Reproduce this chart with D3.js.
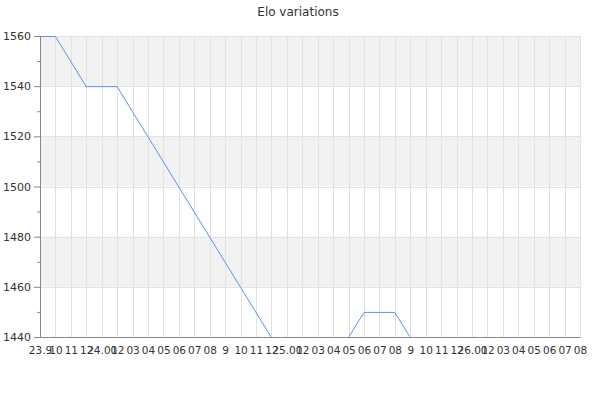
<!DOCTYPE html>
<html>
<head>
<meta charset="utf-8">
<script src="https://cdn.jsdelivr.net/npm/d3@7"></script>
<style>
  body { margin: 0; background: #fff; }
  svg { font-family: "DejaVu Sans", sans-serif; }
</style>
</head>
<body>
<svg id="chart"></svg>
<script>
// tick labels along the bottom, one per point (they overlap in the original too)
const timeLabels = [
  "23.9", "10", "11", "12",
  "24.00", "12", "03", "04", "05", "06", "07", "08", "9", "10", "11", "12",
  "25.00", "12", "03", "04", "05", "06", "07", "08", "9", "10", "11", "12",
  "26.00", "12", "03", "04", "05", "06", "07", "08",
];
const eloValues = [
  1560, 1560, 1550, 1540, 1540, 1540, 1530, 1520, 1510, 1500, 1490, 1480,
  1470, 1460, 1450, 1440, 1440, 1440, 1440, 1440, 1440, 1450, 1450, 1450,
  1440, 1440, 1440, 1440, 1440, 1440, 1440, 1440, 1440, 1440, 1440, 1440,
];
const yTicks = [1440, 1460, 1480, 1500, 1520, 1540, 1560];
const yMinorTicks = [1450, 1470, 1490, 1510, 1530, 1550];

const margin = { left: 40, right: 20, top: 36, bottom: 63 };
const width = 600 - margin.left - margin.right;
const height = 400 - margin.top - margin.bottom;

const svg = d3.select("#chart").attr("width", 600).attr("height", 400);

svg.append("text")
  .attr("x", 298)
  .attr("y", 16)
  .attr("text-anchor", "middle")
  .attr("font-size", 12)
  .attr("fill", "#333")
  .text("Elo variations");

const g = svg.append("g").attr("transform", `translate(${margin.left},${margin.top})`);

// the line is hidden under the bottom axis where it sits on 1440
g.append("clipPath")
  .attr("id", "plotClip")
  .append("rect")
  .attr("x", -2)
  .attr("y", -2)
  .attr("width", width + 4)
  .attr("height", height + 1.5);

const x = d3.scalePoint().domain(d3.range(eloValues.length)).range([0, width]);
const y = d3.scaleLinear().domain([1440, 1560]).range([height, 0]);

// alternating bands between the major ticks
g.selectAll("rect.band")
  .data(d3.pairs(yTicks).filter((d, i) => i % 2 === 1))
  .enter()
  .append("rect")
  .attr("class", "band")
  .attr("x", 0)
  .attr("width", width)
  .attr("y", (d) => y(d[1]))
  .attr("height", (d) => y(d[0]) - y(d[1]))
  .attr("fill", "#f2f2f2");

// grid
g.selectAll("line.vgrid")
  .data(x.domain())
  .enter()
  .append("line")
  .attr("x1", (d) => Math.round(x(d)) + 0.5)
  .attr("x2", (d) => Math.round(x(d)) + 0.5)
  .attr("y1", 0)
  .attr("y2", height)
  .attr("stroke", "#e2e2e2");

g.selectAll("line.hgrid")
  .data(yTicks)
  .enter()
  .append("line")
  .attr("x1", 0)
  .attr("x2", width)
  .attr("y1", (d) => Math.round(y(d)) + 0.5)
  .attr("y2", (d) => Math.round(y(d)) + 0.5)
  .attr("stroke", "#e2e2e2");

// the series
const line = d3.line()
  .x((d, i) => x(i))
  .y((d) => y(d) + 0.5);

g.append("path")
  .datum(eloValues)
  .attr("clip-path", "url(#plotClip)")
  .attr("fill", "none")
  .attr("stroke", "#5d8fef")
  .attr("stroke-width", 1)
  .attr("d", line);

// y axis, major + minor ticks
g.append("g")
  .call(d3.axisLeft(y).tickValues(yTicks).tickSize(6).tickPadding(3).tickFormat(d3.format("d")));
g.append("g")
  .call(d3.axisLeft(y).tickValues(yMinorTicks).tickSize(3).tickFormat(""))
  .call((a) => a.select(".domain").remove());

// x axis drawn last so it sits over the flat 1440 stretches
const xAxis = g.append("g")
  .attr("transform", `translate(0,${height})`)
  .call(d3.axisBottom(x).tickSize(0).tickPadding(10).tickFormat((i) => timeLabels[i]));

g.selectAll(".domain").attr("stroke", "#888");
g.selectAll(".tick line").attr("stroke", "#888");
g.selectAll(".tick text").attr("fill", "#333").attr("font-size", 11).attr("font-family", "DejaVu Sans, sans-serif");
xAxis.selectAll(".tick text").attr("font-size", 10.5);
</script>
</body>
</html>
